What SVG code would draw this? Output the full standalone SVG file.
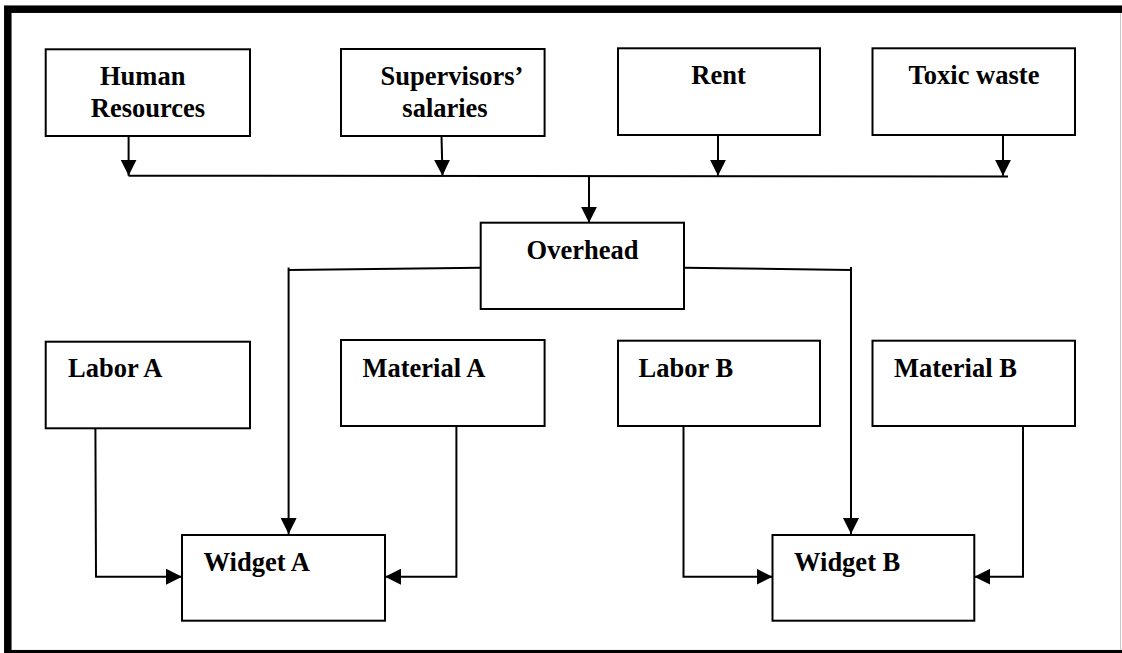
<svg xmlns="http://www.w3.org/2000/svg" width="1122" height="653" viewBox="0 0 1122 653">
<style>
.box{fill:#fff;stroke:#000;stroke-width:2}
.lbl{font-family:"Liberation Serif","Times New Roman",serif;font-weight:bold;font-size:26.5px;fill:#000}
.mid{text-anchor:middle}
.con{fill:none;stroke:#000;stroke-width:2}
</style>
<defs>
<marker id="arr" markerUnits="userSpaceOnUse" markerWidth="16" markerHeight="16" refX="16" refY="8" orient="auto">
<path d="M0,0 L16,8 L0,16 z" fill="#000"/>
</marker>
</defs>
<rect x="0" y="0" width="1122" height="653" fill="#fff"/>
<line x1="1120.5" y1="12" x2="1120.5" y2="650" stroke="#c8c8c8" stroke-width="1"/>
<rect id="frame" x="7.8" y="9.2" width="1125" height="644.5" fill="none" stroke="#000" stroke-width="7.5"/>

<g id="connectors">
<line class="con" x1="128.6" y1="136" x2="128.6" y2="175.7" marker-end="url(#arr)"/>
<line class="con" x1="441.5" y1="136" x2="442.5" y2="175.7" marker-end="url(#arr)"/>
<line class="con" x1="718" y1="135" x2="718" y2="175.7" marker-end="url(#arr)"/>
<line class="con" x1="1003" y1="135" x2="1003" y2="175.7" marker-end="url(#arr)"/>
<line class="con" x1="128.6" y1="175.7" x2="1008" y2="176.5"/>
<line class="con" x1="589" y1="175.7" x2="589" y2="222.7" marker-end="url(#arr)"/>
<polyline class="con" points="480.7,267.7 288.6,270"/>
<line class="con" x1="288.6" y1="267.5" x2="288.6" y2="534" marker-end="url(#arr)"/>
<polyline class="con" points="684,267.7 851,270"/>
<line class="con" x1="851" y1="267" x2="851" y2="534" marker-end="url(#arr)"/>
<polyline class="con" points="95.4,428.3 96,576.7 182,576.7" marker-end="url(#arr)"/>
<polyline class="con" points="456.4,426 456.4,576.7 385,576.7" marker-end="url(#arr)"/>
<polyline class="con" points="683.5,426 683.5,576.7 772.5,576.7" marker-end="url(#arr)"/>
<polyline class="con" points="1023,426 1023,576.7 974.3,576.7" marker-end="url(#arr)"/>
</g>

<g id="hr"><rect class="box" x="45.7" y="49.3" width="204.3" height="86.7"/>
<text class="lbl" x="100" y="85">Human</text><text class="lbl mid" x="148" y="117">Resources</text></g>
<g id="supervisors"><rect class="box" x="341" y="49" width="203.6" height="87"/>
<text class="lbl mid" x="452" y="85">Supervisors’</text><text class="lbl mid" x="445" y="117">salaries</text></g>
<g id="rent"><rect class="box" x="618" y="48.3" width="202" height="86.7"/>
<text class="lbl mid" x="718.5" y="84">Rent</text></g>
<g id="toxic"><rect class="box" x="872.5" y="48.3" width="202.5" height="86.7"/>
<text class="lbl mid" x="974" y="84">Toxic waste</text></g>
<g id="overhead"><rect class="box" x="480.7" y="222.7" width="203.3" height="86.3"/>
<text class="lbl mid" x="582.5" y="259">Overhead</text></g>
<g id="laborA"><rect class="box" x="45.7" y="341.7" width="204.3" height="86.6"/>
<text class="lbl" x="68" y="377">Labor A</text></g>
<g id="materialA"><rect class="box" x="341" y="340" width="203.6" height="86"/>
<text class="lbl" x="362.5" y="377">Material A</text></g>
<g id="laborB"><rect class="box" x="618" y="340.7" width="202" height="85.3"/>
<text class="lbl" x="638.6" y="377">Labor B</text></g>
<g id="materialB"><rect class="box" x="872.5" y="340.7" width="202.5" height="85.3"/>
<text class="lbl" x="894" y="377">Material B</text></g>
<g id="widgetA"><rect class="box" x="182" y="535" width="203" height="85.7"/>
<text class="lbl" x="203.6" y="571">Widget A</text></g>
<g id="widgetB"><rect class="box" x="772.5" y="535" width="201.8" height="85.7"/>
<text class="lbl" x="794" y="571">Widget B</text></g>
</svg>
